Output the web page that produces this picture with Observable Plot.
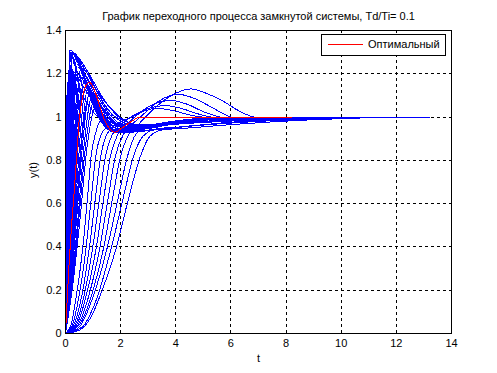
<!DOCTYPE html>
<html>
<head>
<meta charset="utf-8">
<script src="https://cdn.jsdelivr.net/npm/d3@7"></script>
<script src="https://cdn.jsdelivr.net/npm/@observablehq/plot@0.6"></script>
<style>
  html, body { margin: 0; padding: 0; background: #fff; }
  #chart { position: relative; width: 497px; height: 373px; }
  svg { font-family: "Liberation Sans", Arial, sans-serif; }
</style>
</head>
<body>
<div id="chart"></div>
<script>
// ---- Text ----
const titleText = "График переходного процесса замкнутой системы, Td/Ti= 0.1";
const xLabel = "t";
const yLabel = "y(t)";
const legendLabel = "Оптимальный";

// ---- Ticks ----
const xTicks = [0, 2, 4, 6, 8, 10, 12, 14];
const yTicks = [0, 0.2, 0.4, 0.6, 0.8, 1, 1.2, 1.4];
const yTickLabels = ["0", "0.2", "0.4", "0.6", "0.8", "1", "1.2", "1.4"];

// ---- Fast responses with overshoot: [t, y] ----
const e0 = [[0,0],[0.015,0.4],[0.03,0.85],[0.06,1.12],[0.1,1.17],[0.3,1.15],[0.7,1.08],[1.1,1.01],[1.5,0.97],[2.1,0.955],[3,0.962],[4,0.978],[5.5,0.993],[7,1.0]];
const f0 = [[0,0],[0.02,0.3],[0.05,0.78],[0.08,1.1],[0.12,1.22],[0.3,1.21],[0.7,1.13],[1.1,1.05],[1.5,0.99],[2,0.96],[2.8,0.955],[3.8,0.97],[5,0.985],[7,1.0]];
const f1 = [[0,0],[0.03,0.25],[0.06,0.6],[0.1,1.0],[0.15,1.31],[0.35,1.29],[0.7,1.22],[1.1,1.13],[1.5,1.06],[1.8,1.02],[2.2,0.98],[2.8,0.96],[3.5,0.965],[4.5,0.98],[6,0.995],[8,1.0],[12.8,1.0]];
const g1 = [[0,0],[0.04,0.25],[0.08,0.6],[0.13,1.02],[0.18,1.3],[0.4,1.27],[0.75,1.19],[1.15,1.1],[1.55,1.02],[1.9,0.975],[2.4,0.955],[3.2,0.96],[4.2,0.975],[5.5,0.99],[7.5,1.0]];
const f2 = [[0,0],[0.05,0.25],[0.1,0.62],[0.16,1.05],[0.22,1.3],[0.45,1.26],[0.8,1.17],[1.2,1.07],[1.6,0.99],[2.0,0.955],[2.6,0.945],[3.4,0.96],[4.5,0.98],[6,0.993],[8,1.0]];
const k1 = [[0,0],[0.05,0.2],[0.11,0.6],[0.18,1.05],[0.25,1.3],[0.5,1.27],[0.9,1.19],[1.3,1.1],[1.7,1.03],[2.1,0.985],[2.7,0.965],[3.5,0.97],[4.5,0.985],[6,0.997],[8,1.0],[12.8,1.0]];
const g2 = [[0,0],[0.06,0.25],[0.12,0.6],[0.19,1.03],[0.26,1.29],[0.5,1.24],[0.85,1.14],[1.25,1.03],[1.65,0.965],[2.1,0.94],[2.8,0.945],[3.7,0.965],[5,0.985],[7,1.0]];
const f3 = [[0,0],[0.07,0.25],[0.14,0.6],[0.22,1.02],[0.3,1.28],[0.55,1.22],[0.9,1.11],[1.3,1.0],[1.7,0.945],[2.2,0.935],[3,0.95],[4,0.97],[5.5,0.99],[7,1.0]];
const g3 = [[0,0],[0.08,0.25],[0.16,0.6],[0.25,1.01],[0.34,1.27],[0.58,1.21],[0.92,1.09],[1.3,0.99],[1.7,0.94],[2.2,0.932],[3,0.952],[4,0.975],[5.5,0.992],[7,1.0]];
const f4 = [[0,0],[0.09,0.25],[0.18,0.6],[0.28,1.0],[0.38,1.26],[0.6,1.2],[0.95,1.07],[1.3,0.98],[1.7,0.935],[2.2,0.93],[3,0.95],[4,0.975],[5.5,0.99],[7,1.0]];
const k2 = [[0,0],[0.08,0.2],[0.18,0.6],[0.29,1.02],[0.4,1.27],[0.65,1.23],[1.0,1.15],[1.4,1.06],[1.8,1.0],[2.2,0.97],[2.9,0.96],[3.8,0.97],[5,0.988],[7,1.0]];
const c1 = [[0,0],[0.1,0.3],[0.2,0.7],[0.3,1.02],[0.45,1.2],[0.75,1.14],[1.1,1.03],[1.5,0.96],[2.0,0.935],[2.8,0.938],[3.8,0.95],[5,0.965],[6.5,0.98],[8.5,0.992],[10.5,0.998],[12.8,1.0]];
const g4 = [[0,0],[0.1,0.25],[0.2,0.59],[0.31,0.99],[0.42,1.245],[0.65,1.19],[1.0,1.06],[1.35,0.97],[1.75,0.932],[2.25,0.932],[3,0.953],[4,0.978],[5.5,0.993],[7,1.0]];
const f5 = [[0,0],[0.11,0.25],[0.22,0.58],[0.35,0.98],[0.47,1.23],[0.7,1.17],[1.05,1.04],[1.4,0.96],[1.8,0.93],[2.3,0.935],[3,0.955],[4,0.98],[5.5,0.995],[7.5,1.0]];
const g5 = [[0,0],[0.12,0.25],[0.25,0.58],[0.38,0.97],[0.52,1.215],[0.75,1.16],[1.1,1.035],[1.45,0.955],[1.85,0.93],[2.35,0.937],[3.1,0.96],[4.2,0.985],[6,1.0]];
const k3 = [[0,0],[0.12,0.22],[0.26,0.6],[0.4,1.0],[0.55,1.23],[0.8,1.2],[1.15,1.12],[1.5,1.04],[1.9,0.99],[2.4,0.965],[3.1,0.96],[4,0.972],[5.5,0.99],[7.5,1.0]];
const f6 = [[0,0],[0.13,0.24],[0.27,0.57],[0.42,0.96],[0.57,1.2],[0.8,1.15],[1.15,1.03],[1.5,0.955],[1.9,0.93],[2.4,0.94],[3.2,0.965],[4.5,0.99],[6,1.0]];
const c2 = [[0,0],[0.15,0.28],[0.3,0.62],[0.48,0.97],[0.65,1.16],[0.9,1.12],[1.3,1.0],[1.7,0.945],[2.3,0.93],[3.2,0.94],[4.3,0.955],[5.6,0.972],[7.2,0.986],[9.2,0.995],[12.8,1.0]];
const g6 = [[0,0],[0.15,0.24],[0.3,0.57],[0.46,0.955],[0.62,1.185],[0.85,1.14],[1.2,1.025],[1.55,0.95],[1.95,0.93],[2.5,0.942],[3.3,0.968],[4.5,0.99],[6,1.0]];
const f7 = [[0,0],[0.16,0.24],[0.32,0.56],[0.5,0.95],[0.68,1.17],[0.9,1.13],[1.25,1.02],[1.6,0.95],[2.0,0.93],[2.6,0.945],[3.4,0.97],[4.5,0.99],[6,1.0]];
const g7 = [[0,0],[0.17,0.23],[0.35,0.555],[0.55,0.94],[0.74,1.15],[0.97,1.115],[1.32,1.01],[1.7,0.945],[2.15,0.932],[2.8,0.95],[3.7,0.975],[5,0.993],[6.5,1.0]];
const c3 = [[0,0],[0.2,0.25],[0.4,0.57],[0.62,0.93],[0.85,1.1],[1.1,1.075],[1.5,0.985],[2.0,0.94],[2.7,0.935],[3.7,0.948],[4.8,0.962],[6.2,0.978],[8,0.99],[10,0.997],[12.2,1.0]];
const f8 = [[0,0],[0.19,0.23],[0.38,0.55],[0.6,0.93],[0.8,1.13],[1.05,1.1],[1.4,1.0],[1.8,0.94],[2.3,0.935],[3,0.955],[4,0.98],[5.5,0.995],[7,1.0]];
const g8 = [[0,0],[0.2,0.225],[0.41,0.54],[0.65,0.915],[0.87,1.11],[1.12,1.085],[1.5,0.995],[1.9,0.942],[2.45,0.937],[3.2,0.957],[4.3,0.983],[5.8,0.997],[7.5,1.0]];
const f9 = [[0,0],[0.22,0.22],[0.45,0.53],[0.7,0.9],[0.95,1.09],[1.2,1.07],[1.6,0.99],[2.0,0.945],[2.6,0.94],[3.4,0.96],[4.5,0.985],[6,1.0],[8,1.0]];
const g9 = [[0,0],[0.24,0.22],[0.48,0.525],[0.75,0.89],[1.02,1.07],[1.3,1.05],[1.7,0.985],[2.15,0.948],[2.8,0.945],[3.7,0.963],[5,0.988],[6.5,1.0],[8.5,1.0]];
const f10 = [[0,0],[0.26,0.22],[0.52,0.52],[0.8,0.88],[1.1,1.05],[1.4,1.03],[1.8,0.975],[2.3,0.95],[3,0.955],[4,0.975],[5.5,0.993],[7,1.0]];

// ---- Medium responses ----
const m1 = [[0,0],[0.2,0.04],[0.4,0.18],[0.63,0.4],[0.8,0.63],[0.93,0.82],[1.1,0.93],[1.3,0.99],[1.6,1.01],[2.0,0.99],[2.5,0.965],[3.2,0.96],[4.2,0.97],[5.5,0.985],[7,0.995],[9,1.0]];
const m2 = [[0,0],[0.25,0.04],[0.5,0.18],[0.75,0.4],[0.93,0.62],[1.1,0.82],[1.3,0.92],[1.6,0.96],[2.0,0.965],[2.6,0.96],[3.4,0.965],[4.5,0.975],[6,0.985],[8,0.995],[10.2,1.0]];

// ---- Responses with late overshoot hump ----
const h5 = [[0,0],[0.3,0.04],[0.6,0.18],[0.87,0.4],[1.08,0.62],[1.28,0.82],[1.5,0.92],[1.9,0.97],[2.4,1.0],[2.9,1.03],[3.3,1.04],[3.9,1.03],[4.5,1.01],[5.2,0.998],[6.5,1.0],[8,1.0]];
const h4 = [[0,0],[0.35,0.04],[0.7,0.19],[0.99,0.4],[1.23,0.62],[1.45,0.82],[1.7,0.92],[2.1,0.975],[2.5,1.01],[3.0,1.04],[3.6,1.053],[4.2,1.04],[4.8,1.015],[5.4,0.998],[6.2,0.993],[7.5,1.0]];
const h3 = [[0,0],[0.4,0.04],[0.8,0.2],[1.12,0.4],[1.38,0.62],[1.63,0.82],[1.9,0.92],[2.3,0.975],[2.7,1.02],[3.2,1.06],[3.8,1.077],[4.4,1.06],[5.0,1.025],[5.6,1.0],[6.2,0.99],[7.0,0.995],[8.5,1.0]];
const h2 = [[0,0],[0.45,0.04],[0.9,0.2],[1.25,0.4],[1.54,0.62],[1.81,0.82],[2.1,0.92],[2.45,0.97],[2.8,1.01],[3.4,1.075],[4.1,1.105],[4.7,1.085],[5.3,1.045],[5.9,1.005],[6.5,0.99],[7.5,0.995],[9,1.0]];
const h1 = [[0,0],[0.5,0.04],[1.0,0.2],[1.39,0.4],[1.7,0.62],[2.0,0.82],[2.3,0.92],[2.6,0.96],[2.9,1.0],[3.4,1.06],[4.0,1.11],[4.55,1.13],[5.1,1.11],[5.7,1.075],[6.2,1.035],[6.7,1.005],[7.3,0.99],[8.5,0.995],[9.5,1.0]];

// ---- Slow creeping responses ----
const s1 = [[0,0],[0.5,0.03],[1.0,0.17],[1.52,0.4],[1.9,0.62],[2.25,0.82],[2.55,0.92],[3.0,0.955],[3.8,0.965],[5,0.975],[6.5,0.985],[8.5,0.993],[10.5,0.998],[12.8,1.0]];
const s2 = [[0,0],[0.6,0.03],[1.1,0.15],[1.67,0.4],[2.08,0.62],[2.47,0.82],[2.8,0.91],[3.3,0.945],[4.2,0.955],[5.5,0.968],[7,0.98],[9,0.99],[11,0.997],[12.8,1.0]];
const s3 = [[0,0],[0.5,0.015],[0.9,0.07],[1.33,0.2],[1.85,0.4],[2.24,0.6],[2.72,0.82],[3.05,0.91],[3.5,0.94],[4.5,0.95],[6,0.965],[7.5,0.978],[9,0.988],[10.5,0.995],[13.2,1.0]];

// ---- Optimal response ----
const optimal = [[0,0],[0.04,0.1],[0.12,0.3],[0.22,0.5],[0.33,0.68],[0.42,0.85],[0.5,0.99],[0.6,1.08],[0.72,1.14],[0.87,1.16],[1.0,1.14],[1.17,1.08],[1.4,0.99],[1.6,0.945],[1.8,0.93],[2.0,0.945],[2.36,0.977],[2.72,1.0],[4,1.0],[6,1.0],[8.2,1.0]];

const blueCurves = [e0,f0,f1,g1,f2,k1,g2,f3,g3,f4,k2,c1,g4,f5,g5,k3,f6,c2,g6,f7,g7,c3,f8,g8,f9,g9,f10,m1,m2,h5,h4,h3,h2,h1,s1,s2,s3];
const blueData = blueCurves.flatMap((c, i) => c.map(([t, y]) => ({t, y, id: i})));
const redData = optimal.map(([t, y]) => ({t, y}));

const W = 497, H = 373;
const mL = 65, mR = 46, mT = 30, mB = 40;
const FONT = 11;

const plot = Plot.plot({
  width: W, height: H,
  marginLeft: mL, marginRight: mR, marginTop: mT, marginBottom: mB,
  style: {fontFamily: '"Liberation Sans", Arial, sans-serif', fontSize: FONT + "px", background: "#fff", color: "#000"},
  x: {domain: [0, 14]},
  y: {domain: [0, 1.4]},
  marks: [
    Plot.gridX(xTicks, {stroke: "#000", strokeOpacity: 1, strokeDasharray: "3,3", shapeRendering: "crispEdges"}),
    Plot.gridY(yTicks, {stroke: "#000", strokeOpacity: 1, strokeDasharray: "3,3", shapeRendering: "crispEdges"}),
    Plot.line(blueData, {x: "t", y: "y", z: "id", stroke: "#0000ff", strokeWidth: 1, curve: "monotone-x", shapeRendering: "crispEdges"}),
    Plot.line(redData, {x: "t", y: "y", stroke: "#ff0000", strokeWidth: 1, curve: "monotone-x", shapeRendering: "crispEdges"}),
    Plot.frame({stroke: "#000", shapeRendering: "crispEdges"}),
    Plot.axisX({ticks: xTicks, tickSize: 0, tickPadding: 6, label: null, fontSize: FONT}),
    Plot.axisY({ticks: yTicks, tickFormat: (d, i) => yTickLabels[i], tickSize: 0, tickPadding: 4, label: null, fontSize: FONT}),
    Plot.text([titleText], {frameAnchor: "top", dy: -14, fontSize: FONT, lineAnchor: "middle"}),
    Plot.text([xLabel], {frameAnchor: "bottom", dy: 25, fontSize: FONT, lineAnchor: "middle"}),
    Plot.text([yLabel], {frameAnchor: "left", dx: -32, dy: -4, rotate: -90, fontSize: FONT, lineAnchor: "middle"})
  ]
});

document.getElementById("chart").appendChild(plot);

// ---- Legend box (layout in pixels) ----
const svg = d3.select(plot);
const lg = svg.append("g").attr("font-family", '"Liberation Sans", Arial, sans-serif').attr("font-size", FONT);
lg.append("rect").attr("x", 321.5).attr("y", 34.5).attr("width", 124).attr("height", 21)
  .attr("fill", "#fff").attr("stroke", "#000").attr("shape-rendering", "crispEdges");
lg.append("line").attr("x1", 328).attr("x2", 363).attr("y1", 44.5).attr("y2", 44.5)
  .attr("stroke", "#ff0000").attr("stroke-width", 1).attr("shape-rendering", "crispEdges");
lg.append("text").attr("x", 368).attr("y", 44.5).attr("dy", "0.35em").attr("text-anchor", "start").text(legendLabel);
</script>
</body>
</html>
